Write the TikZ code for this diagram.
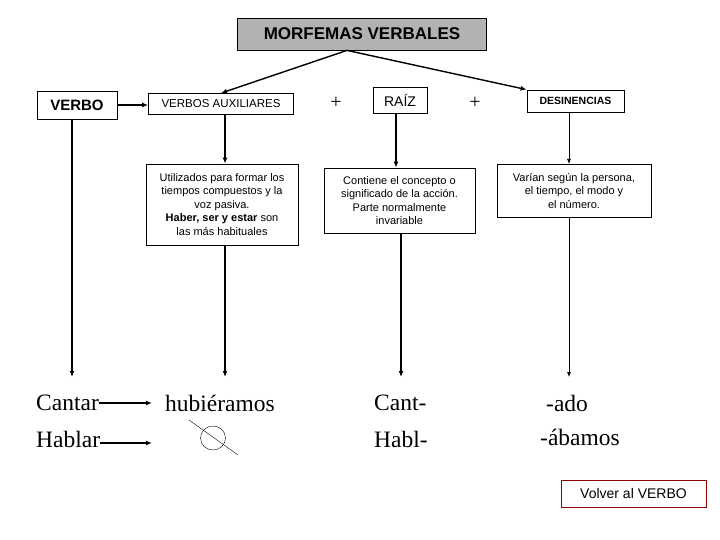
\documentclass[tikz,border=0pt]{standalone}
\usepackage{fontspec}
\setmainfont{Liberation Sans}
\newfontfamily\serifw{Liberation Serif}
\usetikzlibrary{arrows.meta,shapes.geometric}
\tikzset{
 bx/.style={draw,thick,inner sep=2pt,align=center},
 thk/.style={line width=1.4pt,-{Latex[length=6pt,width=5pt]}},
 thn/.style={line width=0.7pt,-{Latex[length=5pt,width=4pt]}},
 word/.style={font=\serifw\fontsize{23.5}{25}\selectfont,anchor=west,inner sep=0pt},
 small/.style={font=\fontsize{11}{13.5}\selectfont}
}
\begin{document}
\begin{tikzpicture}[x=1pt,y=-1pt]
\useasboundingbox (0,0) rectangle (720,540);
\node[bx,fill=black!30,minimum width=249pt,minimum height=32pt,font=\bfseries\fontsize{17}{20}\selectfont] (title) at (362,34) {MORFEMAS VERBALES};
\coordinate (top) at (347,53);
\node[bx,minimum width=80pt,minimum height=28pt,font=\bfseries\fontsize{15}{18}\selectfont] (verbo) at (77,105) {VERBO};
\node[bx,minimum width=145pt,minimum height=21pt,font=\fontsize{11.5}{13}\selectfont] (aux) at (221,104) {VERBOS AUXILIARES};
\node[font=\serifw\fontsize{20}{20}\selectfont] (p1) at (336,103) {+};
\node[bx,minimum width=54pt,minimum height=26pt,font=\fontsize{14}{16}\selectfont] (raiz) at (400,100) {RAÍZ};
\node[font=\serifw\fontsize{20}{20}\selectfont] (p2) at (475,103) {+};
\node[bx,minimum width=97pt,minimum height=22pt,font=\bfseries\fontsize{10.5}{12}\selectfont] (des) at (575.5,101) {DESINENCIAS};
\draw[thk] (title.south -| top) -- (aux.north);
\draw[thk] (title.south -| top) -- (des.north west);
\node[bx,small,minimum width=152pt,minimum height=81pt] (util) at (222,204.5) {Utilizados para formar los\\tiempos compuestos y la\\voz pasiva.\\\textbf{Haber, ser y estar} son\\las más habituales};
\node[bx,small,minimum width=151pt,minimum height=65pt] (cont) at (399.5,200.5) {Contiene el concepto o\\significado de la acción.\\Parte normalmente\\invariable};
\node[bx,small,minimum width=154pt,minimum height=53pt,anchor=north] (var) at (574,164) {Varían según la persona,\\el tiempo, el modo y\\el número.};
\node[word] (cantar) at (36,403) {Cantar};
\node[word] (hablar) at (36,439) {Hablar};
\node[word] (hub) at (165,403) {hubiéramos};
\node[word] (cant) at (374,403) {Cant-};
\node[word] (habl) at (374,439) {Habl-};
\node[word] (ado) at (546,403) {-ado};
\node[word] (abamos) at (540,437) {-ábamos};
\node[draw=red!55!black,thin,inner sep=3pt,minimum width=145pt,minimum height=27pt,font=\fontsize{14}{16}\selectfont] (volver) at (633.5,493.5) {Volver al VERBO};
\coordinate (e1) at (72,377); \coordinate (e2) at (225,377);
\coordinate (e3) at (401,377); \coordinate (e4) at (569,377);
\draw[thk] (verbo.east) -- (verbo.east -| aux.west);
\draw[thk] (verbo.south -| e1) -- (e1);
\draw[thk] (aux.south -| e2) -- (util.north -| e2);
\draw[thk] (util.south -| e2) -- (e2);
\draw[thk] (raiz.south -| 396,0) -- (cont.north -| 396,0);
\draw[thk] (cont.south -| e3) -- (e3);
\draw[thn] (des.south -| e4) -- (var.north -| e4);
\draw[thn] (var.south -| e4) -- (e4);
\coordinate (a1) at (152,403); \coordinate (a2) at (152,443);
\draw[thk] (cantar.east) -- (a1);
\draw[thk] (hablar.east |- a2) -- (a2);
\node[draw,thin,ellipse,minimum width=25pt,minimum height=24pt,inner sep=0pt] (zero) at (213,438) {};
\draw[thin] (189,420) -- (238,455);
\end{tikzpicture}
\end{document}
